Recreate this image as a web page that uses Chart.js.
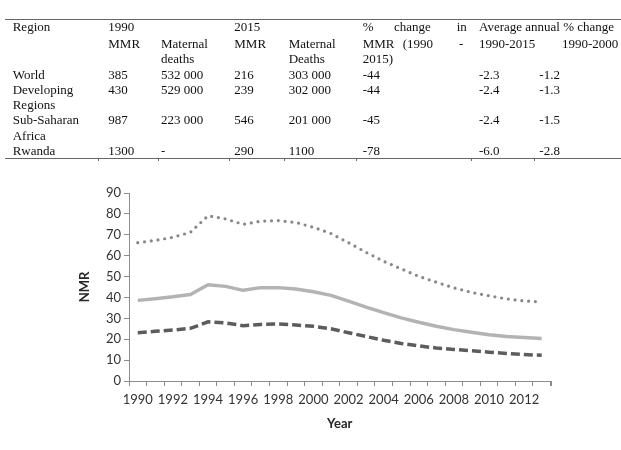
<!DOCTYPE html>
<html>
<head>
<meta charset="utf-8">
<script src="https://cdn.jsdelivr.net/npm/chart.js@4"></script>
<style>
  html, body { margin: 0; padding: 0; background: #fff; }
  body { width: 621px; height: 450px; position: relative; overflow: hidden; }
  #chartWrap { position: absolute; left: 0; top: 0; width: 621px; height: 450px; }
  .t { position: absolute; font-family: "Liberation Serif", "Times New Roman", serif; font-size: 13px; line-height: 15px; color: #111; white-space: nowrap; }
  .rule { position: absolute; background: #666; }
</style>
</head>
<body>
<div id="chartWrap"><canvas id="c" width="621" height="450"></canvas></div>
<div id="table"></div>
<script>
// ---- data ----
const years = ["1990","1991","1992","1993","1994","1995","1996","1997","1998","1999","2000","2001",
               "2002","2003","2004","2005","2006","2007","2008","2009","2010","2011","2012","2013"];
const upperBound = [66.2,67.3,68.8,71.2,79.1,77.6,75.0,76.5,76.8,75.9,73.6,70.6,
                    66.2,61.6,57.3,53.7,50.1,47.3,44.6,42.4,40.8,39.3,38.3,37.9];
const nmrEstimate = [38.6,39.4,40.3,41.4,46.1,45.3,43.4,44.7,44.7,44.0,42.7,41.0,
                     38.2,35.4,32.7,30.2,28.1,26.2,24.6,23.3,22.1,21.3,20.8,20.4];
const lowerBound = [23.1,23.8,24.4,25.2,28.3,27.8,26.5,27.1,27.3,26.8,26.2,25.0,
                    23.1,21.3,19.5,18.0,16.8,15.8,15.1,14.5,13.8,13.2,12.7,12.3];
const yTicks = [0,10,20,30,40,50,60,70,80,90];

// table content
const tableHeader = [
  ["Region","1990","","2015","","%","change","in","Average annual % change",""],
  ["","MMR","Maternal","MMR","Maternal","MMR","(1990","-","1990-2015","1990-2000"],
  ["","","deaths","","Deaths","2015)","","","",""]
];
const tableRows = [
  ["World","385","532 000","216","303 000","-44","-2.3","-1.2"],
  ["Developing","430","529 000","239","302 000","-44","-2.4","-1.3"],
  ["Regions","","","","","","",""],
  ["Sub-Saharan","987","223 000","546","201 000","-45","-2.4","-1.5"],
  ["Africa","","","","","","",""],
  ["Rwanda","1300","-","290","1100","-78","-6.0","-2.8"]
];

// ---- table drawing ----
const tbl = document.getElementById('table');
function put(text, x, yc) {
  if (!text) return;
  const s = document.createElement('span');
  s.className = 't';
  s.textContent = text;
  s.style.left = x + 'px';
  s.style.top = (yc - 7.6) + 'px';
  tbl.appendChild(s);
}
function rule(x, y, w, h) {
  const d = document.createElement('div');
  d.className = 'rule';
  d.style.left = x + 'px'; d.style.top = y + 'px';
  d.style.width = w + 'px'; d.style.height = h + 'px';
  tbl.appendChild(d);
}
const headX = [12.7,108.3,161,234.3,288.7,362.7,394,456.7,479,562];
const headX2 = [12.7,108.3,161,234.3,288.7,362.7,402.7,459,479,562];
const headY = [26.7,43.3,58.6];
tableHeader.forEach((row, r) => {
  row.forEach((txt, i) => put(txt, (r === 1 ? headX2 : headX)[i], headY[r]));
});
const rowX = [12.7,108.3,161,234.3,288.7,362.7,479,539.3];
const rowY = [74.3,89.3,104.5,120,135.5,151];
tableRows.forEach((row, r) => row.forEach((txt, i) => put(txt, rowX[i], rowY[r])));
rule(5, 18.5, 616, 1.3);
rule(5, 157.5, 616, 1.8);
[98,158,229,284,356,471,534].forEach(x => rule(x, 159, 1, 2));

// ---- chart ----
const tickFont = { family: "Lato, 'Open Sans', sans-serif", size: 13 };
const titleFont = { family: "Lato, 'Open Sans', sans-serif", size: 13, weight: 'bold' };

const endTick = {
  id: 'endTick',
  afterDraw(chart) {
    const ctx = chart.ctx, a = chart.chartArea;
    ctx.save();
    ctx.strokeStyle = '#8c8c8c';
    ctx.lineWidth = 1;
    ctx.beginPath();
    ctx.moveTo(Math.round(a.right) + 0.5, a.bottom);
    ctx.lineTo(Math.round(a.right) + 0.5, a.bottom + 5);
    ctx.stroke();
    ctx.restore();
  }
};

new Chart(document.getElementById('c'), {
  type: 'line',
  data: {
    labels: years,
    datasets: [
      { label: 'Upper bound', data: upperBound, borderColor: '#878787', borderWidth: 3.2,
        borderDash: [0, 6.8], borderCapStyle: 'round', pointRadius: 0, fill: false, tension: 0 },
      { label: 'NMR', data: nmrEstimate, borderColor: '#b3b3b3', borderWidth: 3.5,
        pointRadius: 0, fill: false, tension: 0, borderJoinStyle: 'round' },
      { label: 'Lower bound', data: lowerBound, borderColor: '#5c5c5c', borderWidth: 3.5,
        borderDash: [9, 4], pointRadius: 0, fill: false, tension: 0 }
    ]
  },
  options: {
    responsive: false,
    animation: false,
    devicePixelRatio: 1,
    layout: { padding: { top: 193, left: 77, right: 70.5, bottom: 18.7 } },
    plugins: { legend: { display: false }, tooltip: { enabled: false } },
    scales: {
      x: {
        offset: true,
        grid: { offset: true, drawOnChartArea: false, drawTicks: true, tickLength: 5, color: '#8c8c8c' },
        border: { color: '#8c8c8c', width: 1 },
        ticks: {
          autoSkip: false, maxRotation: 0, minRotation: 0, padding: 6.5,
          color: '#333333', font: tickFont,
          callback: function (v, i) { return i % 2 === 0 ? this.getLabelForValue(v) : ''; }
        },
        title: { display: true, text: 'Year', color: '#262626', font: titleFont, padding: 0 },
        afterFit(s) { s.height = 50.3; s.paddingLeft = 0; s.paddingRight = 0; }
      },
      y: {
        min: 0, max: 90,
        afterBuildTicks(s) { s.ticks = yTicks.map(v => ({ value: v })); },
        grid: { drawOnChartArea: false, drawTicks: true, tickLength: 5, color: '#8c8c8c' },
        border: { color: '#8c8c8c', width: 1 },
        ticks: { padding: 3, color: '#333333', font: tickFont },
        title: { display: true, text: 'NMR', color: '#262626', font: titleFont, padding: 0 },
        afterFit(s) { s.width = 52; s.paddingTop = 0; s.paddingBottom = 0; }
      }
    }
  },
  plugins: [endTick]
});
</script>
</body>
</html>
